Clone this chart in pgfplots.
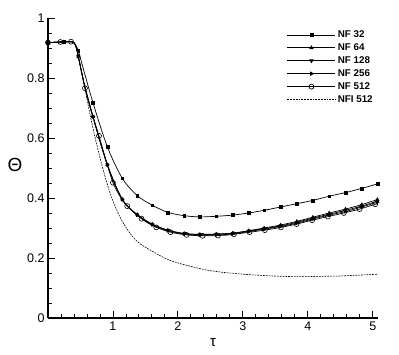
\documentclass[border=0pt]{standalone}
\usepackage{fontspec}
\setmainfont{Liberation Sans}
\usepackage{pgfplots}
\pgfplotsset{compat=1.18}
\usetikzlibrary{plotmarks}

\begin{document}
\begin{tikzpicture}
\begin{axis}[
    scale only axis,
    width=330pt, height=300pt,
    at={(0,0)}, anchor=south west,
    xmin=0, xmax=5.08, ymin=0, ymax=1,
    axis x line=bottom, axis y line=left,
    axis line style={-, line width=1.4pt},
    xtick={0,1,2,3,4,5}, xticklabels={,1,2,3,4,5},
    ytick={0,0.2,0.4,0.6,0.8,1}, yticklabels={0,0.2,0.4,0.6,0.8,1},
    minor x tick num=4, minor y tick num=3,
    tick align=inside,
    major tick length=7pt, minor tick length=4pt,
    tick style={line width=0.9pt, black},
    tick label style={font=\fontsize{12.5}{14}\selectfont},
    legend style={at={(rel axis cs:0.724,0.965)}, anchor=north west,
        draw=none, fill=none, font=\fontsize{9.8}{10}\selectfont\bfseries,
        row sep=0.6pt, inner sep=0pt},
    legend cell align=left,
    legend image code/.code={\draw[mark repeat=2,mark phase=2]
        plot coordinates {(0pt,0pt) (24pt,0pt) (48pt,0pt)};},
]

% --- lines ---
% NF 32
\addplot[black, line width=0.7pt, smooth, forget plot] coordinates {
 (0,0.918) (0.236,0.92) (0.38,0.921) (0.415,0.914) (0.466,0.891) (0.55,0.826)
 (0.692,0.718) (0.913,0.571) (1.143,0.466) (1.374,0.408) (1.605,0.376) (1.846,0.352)
 (2.097,0.341) (2.338,0.337) (2.589,0.339) (2.842,0.343) (3.088,0.35) (3.328,0.359)
 (3.58,0.37) (3.83,0.381) (4.077,0.392) (4.328,0.406) (4.58,0.418) (4.83,0.432) (5.07,0.447)};
% NF 64
\addplot[black, line width=0.7pt, smooth, forget plot] coordinates {
 (0,0.918) (0.236,0.92) (0.38,0.920) (0.43,0.905) (0.466,0.872) (0.55,0.787)
 (0.692,0.671) (0.913,0.511) (1.143,0.396) (1.374,0.345) (1.605,0.313) (1.846,0.293)
 (2.097,0.282) (2.338,0.279) (2.589,0.280) (2.842,0.283) (3.088,0.291) (3.328,0.300)
 (3.58,0.310) (3.83,0.322) (4.077,0.336) (4.328,0.350) (4.58,0.363) (4.83,0.378) (5.07,0.395)};
% NF 128
\addplot[black, line width=0.7pt, smooth, forget plot] coordinates {
 (0,0.918) (0.236,0.92) (0.38,0.920) (0.43,0.905) (0.466,0.872) (0.55,0.787)
 (0.692,0.671) (0.913,0.511) (1.143,0.395) (1.374,0.344) (1.605,0.312) (1.846,0.292)
 (2.097,0.281) (2.338,0.278) (2.589,0.279) (2.842,0.282) (3.088,0.290) (3.328,0.298)
 (3.58,0.307) (3.83,0.319) (4.077,0.333) (4.328,0.346) (4.58,0.359) (4.83,0.373) (5.07,0.390)};
% NF 256
\addplot[black, line width=0.7pt, smooth, forget plot] coordinates {
 (0,0.918) (0.236,0.92) (0.38,0.920) (0.43,0.905) (0.466,0.872) (0.55,0.787)
 (0.692,0.671) (0.913,0.511) (1.143,0.395) (1.374,0.343) (1.605,0.311) (1.846,0.291)
 (2.097,0.280) (2.338,0.276) (2.589,0.277) (2.842,0.280) (3.088,0.288) (3.328,0.296)
 (3.58,0.305) (3.83,0.316) (4.077,0.330) (4.328,0.343) (4.58,0.355) (4.83,0.370) (5.07,0.386)};
% NF 512
\addplot[black, line width=0.7pt, smooth, forget plot] coordinates {
 (0,0.918) (0.19,0.92) (0.354,0.921) (0.40,0.918) (0.43,0.905) (0.47,0.868) (0.52,0.818)
 (0.569,0.766) (0.66,0.693) (0.785,0.607) (0.9,0.52) (1.0,0.451) (1.11,0.405) (1.22,0.373)
 (1.33,0.35) (1.44,0.331) (1.55,0.315) (1.667,0.302) (1.78,0.293) (1.887,0.286) (2.0,0.281)
 (2.133,0.277) (2.26,0.275) (2.38,0.274) (2.5,0.274) (2.615,0.275) (2.74,0.276) (2.862,0.279)
 (3.0,0.283) (3.103,0.286) (3.338,0.293) (3.585,0.302) (3.826,0.313) (4.066,0.326)
 (4.308,0.338) (4.554,0.35) (4.795,0.363) (5.036,0.379) (5.08,0.382)};
% NFI 512
\addplot[black, line width=0.6pt, dash pattern=on 1.8pt off 1pt, smooth, forget plot] coordinates {
 (0,0.918) (0.2,0.92) (0.38,0.920) (0.42,0.91) (0.45,0.89) (0.5,0.84) (0.55,0.785)
 (0.6,0.73) (0.65,0.675) (0.7,0.625) (0.75,0.578) (0.8,0.535) (0.85,0.493) (0.9,0.455)
 (0.95,0.42) (1.0,0.39) (1.1,0.34) (1.2,0.302) (1.3,0.272) (1.4,0.25) (1.57,0.227)
 (1.75,0.205) (1.93,0.188) (2.2,0.172) (2.44,0.16) (2.7,0.152) (2.95,0.147) (3.2,0.143)
 (3.47,0.14) (3.75,0.138) (3.98,0.138) (4.25,0.139) (4.49,0.14) (4.8,0.143) (5.08,0.146)};

% --- marks ---
\addplot[only marks, mark=square*, mark size=1.4pt, black, forget plot] coordinates {
 (0,0.918) (0.236,0.92) (0.466,0.891) (0.692,0.718) (0.913,0.571) (1.143,0.466)
 (1.374,0.408) (1.605,0.376) (1.846,0.352) (2.097,0.341) (2.338,0.337) (2.589,0.339)
 (2.842,0.343) (3.088,0.35) (3.328,0.359) (3.58,0.37) (3.83,0.381) (4.077,0.392)
 (4.328,0.406) (4.58,0.418) (4.83,0.432) (5.07,0.447)};
\addplot[only marks, mark=triangle*, mark size=1.9pt, black, forget plot] coordinates {
 (0,0.918) (0.236,0.92) (0.466,0.872) (0.692,0.671) (0.913,0.511) (1.143,0.396)
 (1.374,0.345) (1.605,0.313) (1.846,0.293) (2.097,0.282) (2.338,0.279) (2.589,0.280)
 (2.842,0.283) (3.088,0.291) (3.328,0.300) (3.58,0.310) (3.83,0.322) (4.077,0.336)
 (4.328,0.350) (4.58,0.363) (4.83,0.378) (5.07,0.395)};
\addplot[only marks, mark=triangle*, mark options={rotate=180}, mark size=1.9pt, black, forget plot] coordinates {
 (0,0.918) (0.236,0.92) (0.466,0.872) (0.692,0.671) (0.913,0.511) (1.143,0.395)
 (1.374,0.344) (1.605,0.312) (1.846,0.292) (2.097,0.281) (2.338,0.278) (2.589,0.279)
 (2.842,0.282) (3.088,0.290) (3.328,0.298) (3.58,0.307) (3.83,0.319) (4.077,0.333)
 (4.328,0.346) (4.58,0.359) (4.83,0.373) (5.07,0.390)};
\addplot[only marks, mark=triangle*, mark options={rotate=-90}, mark size=1.9pt, black, forget plot] coordinates {
 (0,0.918) (0.236,0.92) (0.466,0.872) (0.692,0.671) (0.913,0.511) (1.143,0.395)
 (1.374,0.343) (1.605,0.311) (1.846,0.291) (2.097,0.280) (2.338,0.276) (2.589,0.277)
 (2.842,0.280) (3.088,0.288) (3.328,0.296) (3.58,0.305) (3.83,0.316) (4.077,0.330)
 (4.328,0.343) (4.58,0.355) (4.83,0.370) (5.07,0.386)};
\addplot[only marks, mark=o, mark size=2.5pt, black, line width=0.6pt, forget plot] coordinates {
 (0,0.918) (0.19,0.92) (0.354,0.921) (0.569,0.766) (0.785,0.607) (1.0,0.451) (1.22,0.373)
 (1.44,0.331) (1.667,0.302) (1.887,0.286) (2.133,0.277) (2.38,0.274) (2.615,0.275)
 (2.862,0.279) (3.103,0.286) (3.338,0.293) (3.585,0.302) (3.826,0.313) (4.066,0.326)
 (4.308,0.338) (4.554,0.35) (4.795,0.363) (5.036,0.379)};

% --- legend ---
\addlegendimage{black, line width=0.7pt, mark=square*, mark size=1.4pt}
\addlegendentry{NF 32}
\addlegendimage{black, line width=0.7pt, mark=triangle*, mark size=1.9pt}
\addlegendentry{NF 64}
\addlegendimage{black, line width=0.7pt, mark=triangle*, mark options={rotate=180}, mark size=1.9pt}
\addlegendentry{NF 128}
\addlegendimage{black, line width=0.7pt, mark=triangle*, mark options={rotate=-90}, mark size=1.9pt}
\addlegendentry{NF 256}
\addlegendimage{black, line width=0.7pt, mark=o, mark size=2.5pt}
\addlegendentry{NF 512}
\addlegendimage{black, line width=0.6pt, dash pattern=on 1.8pt off 1pt}
\addlegendentry{NFI 512}
\end{axis}
% axis labels, placed beside the axis box (axis box spans 330pt x 300pt from the origin)
\node[font=\fontsize{19}{21}\selectfont] at (-33pt,153pt) {Θ};
\node[font=\fontsize{15}{17}\selectfont] at (165pt,-25pt) {τ};
\pgfresetboundingbox
\path (-48pt,-37pt) rectangle (351pt,318pt);
\end{tikzpicture}
\end{document}
